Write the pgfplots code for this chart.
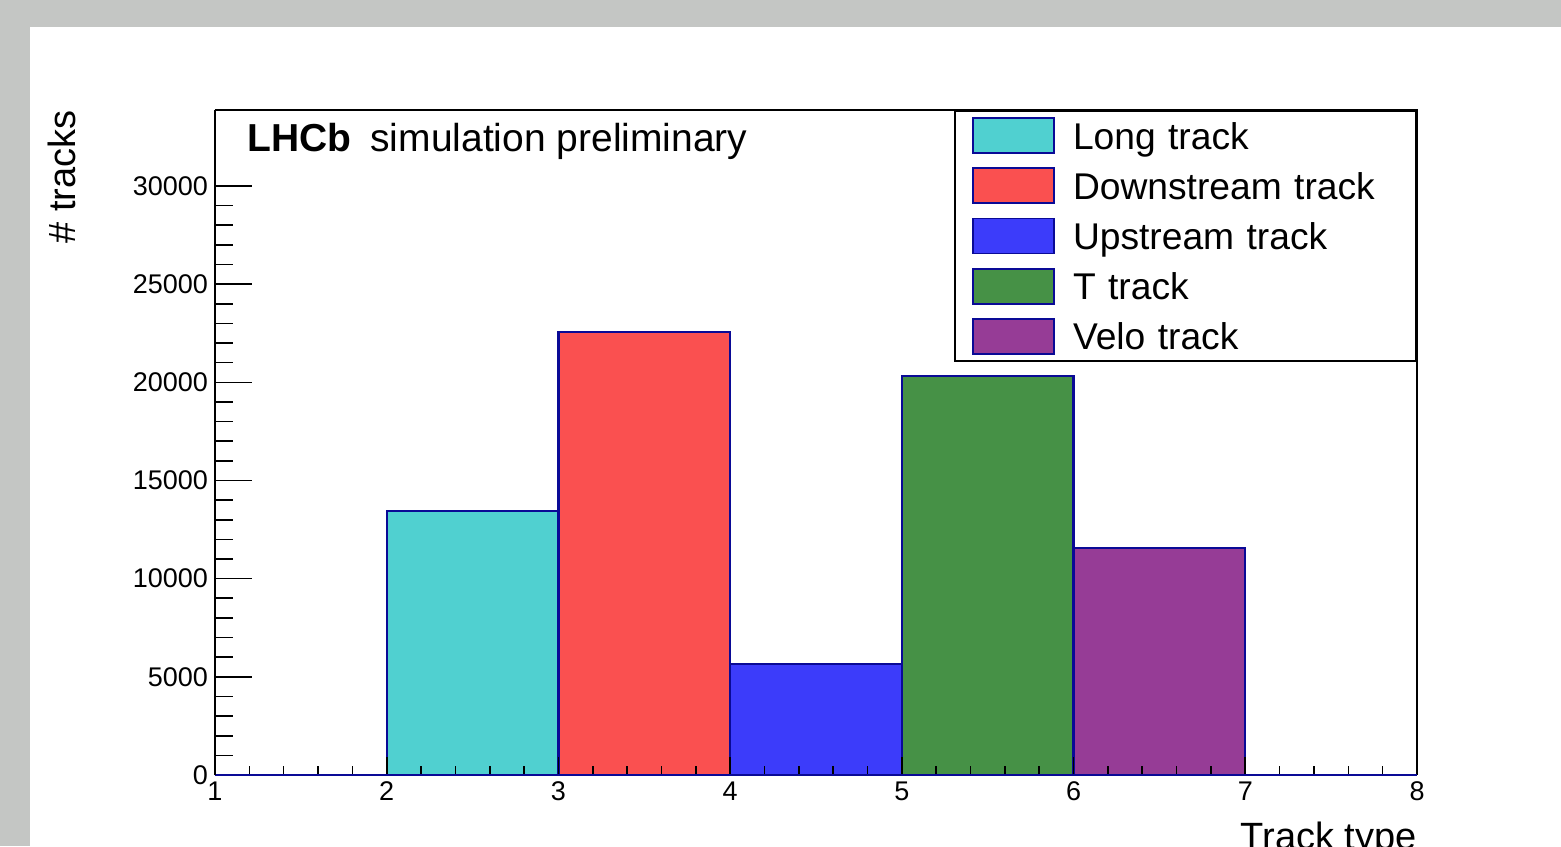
\documentclass[border=0pt]{standalone}
\usepackage{pgfplots}
\pgfplotsset{compat=1.18}
\usepackage{fontspec}
\setmainfont{Liberation Sans}
\definecolor{navy}{RGB}{10,10,150}
\definecolor{rootgray}{RGB}{196,198,196}
\definecolor{cyanfill}{RGB}{80,208,208}
\definecolor{redfill}{RGB}{250,80,80}
\definecolor{bluefill}{RGB}{60,60,250}
\definecolor{greenfill}{RGB}{70,145,70}
\definecolor{purplefill}{RGB}{150,60,150}
\begin{document}
\begin{tikzpicture}
\fill[rootgray] (-107.5pt,-35.5pt) rectangle (673pt,387.5pt);
\fill[white] (-92.5pt,-35.5pt) rectangle (673pt,374pt);
\begin{scope}
\clip (-107.5pt,-35.5pt) rectangle (673pt,387.5pt);
\begin{axis}[
  at={(0,0)}, anchor=south west,
  scale only axis, width=601pt, height=332.5pt,
  xmin=1, xmax=8, ymin=0, ymax=33870,
  clip=false,
  axis on top,
  axis x line*=bottom, axis y line*=left,
  axis line style={-},
  x axis line style={draw=navy, line width=1.3pt},
  y axis line style={draw=black, line width=1pt},
  xtick={1,2,3,4,5,6,7,8}, minor x tick num=4,
  ytick={0,5000,10000,15000,20000,25000,30000}, minor y tick num=4,
  tick align=inside,
  x tick style={black, line width=0.8pt, /pgfplots/major tick length=9pt, /pgfplots/minor tick length=4.5pt},
  y tick style={black, line width=0.8pt, /pgfplots/major tick length=18.5pt, /pgfplots/minor tick length=9pt},
  tick label style={font=\fontsize{13.5}{15}\selectfont},
  /pgf/number format/assume math mode=true,
  /pgf/number format/set thousands separator={},
  scaled y ticks=false,
  legend cell align=left,
  legend image code/.code={\draw[#1, line width=0.9pt] (0pt,-8.75pt) rectangle (40.5pt,8.75pt);},
  legend style={at={(rel axis cs:1,1)}, anchor=north east, draw=black, line width=1pt, fill=white,
    font=\fontsize{18.6}{22}\selectfont, inner xsep=8.5pt, inner ysep=3.1pt,
    row sep=6.7pt, column sep=9pt,
    nodes={inner sep=0pt, text width=163pt, text height=13.5pt, text depth=0pt}},
]
\addplot[fill=cyanfill, draw=navy, line width=1.2pt] coordinates {(2,0) (2,13450) (3,13450) (3,0)} \closedcycle;
\addlegendentry{Long track}
\addplot[fill=redfill, draw=navy, line width=1.2pt] coordinates {(3,0) (3,22560) (4,22560) (4,0)} \closedcycle;
\addlegendentry{Downstream track}
\addplot[fill=bluefill, draw=navy, line width=1.2pt] coordinates {(4,0) (4,5650) (5,5650) (5,0)} \closedcycle;
\addlegendentry{Upstream track}
\addplot[fill=greenfill, draw=navy, line width=1.2pt] coordinates {(5,0) (5,20320) (6,20320) (6,0)} \closedcycle;
\addlegendentry{T track}
\addplot[fill=purplefill, draw=navy, line width=1.2pt] coordinates {(6,0) (6,11560) (7,11560) (7,0)} \closedcycle;
\addlegendentry{Velo track}
\draw[black, line width=1pt] (rel axis cs:0,1) -- (rel axis cs:1,1) -- (rel axis cs:1,0);
\node[anchor=base west, inner sep=0pt, font=\fontsize{19.5}{22}\selectfont] at ([xshift=16pt]rel axis cs:0,0.937) {\textbf{LHCb}\hspace{9.5pt}simulation preliminary};
\node[rotate=90, anchor=east, inner sep=0pt, font=\fontsize{19}{22}\selectfont] at ([xshift=-76.5pt]rel axis cs:0,1) {\# tracks};
\node[anchor=base east, inner sep=0pt, font=\fontsize{19}{22}\selectfont] at ([yshift=-37pt]rel axis cs:1,0) {Track type};
\end{axis}
\end{scope}
\pgfresetboundingbox
\useasboundingbox (-107.5pt,-35.5pt) rectangle (673pt,387.5pt);
\end{tikzpicture}
\end{document}
